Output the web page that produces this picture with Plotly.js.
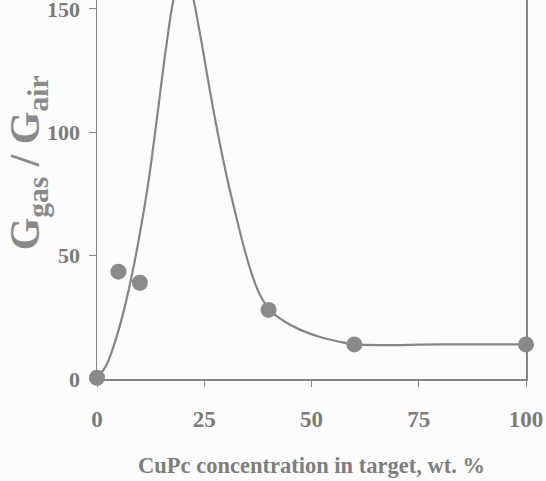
<!DOCTYPE html>
<html>
<head>
<meta charset="utf-8">
<script src="https://cdn.plot.ly/plotly-3.0.1.min.js"></script>
<style>html,body{margin:0;padding:0;background:#fcfcfc;}</style>
</head>
<body>
<div id="chart" style="width:546px;height:481px;"></div>
<script>
// Measured points
const concentration = [0, 5, 10, 40, 60, 100];
const ratio = [0.5, 43.5, 39, 28, 14, 14];

// Smooth guide curve
const curveX = [0, 2, 4, 6, 8, 10, 12, 14, 16, 18, 20, 22, 24, 26, 28, 30, 32, 34, 36, 38, 40.3, 44, 48, 52, 56, 60, 80, 100];
const curveY = [0.5, 5, 14, 26, 41, 59, 80, 106, 133, 155, 165, 157, 140, 120, 101, 84, 69, 55, 43, 34, 28, 23, 19.5, 17, 15.3, 14, 14, 14];

const xTicks = [0, 25, 50, 75, 100];
const yTicks = [0, 50, 100, 150];

const grey = '#858585';
const serif = 'Liberation Serif, Times New Roman, serif';

const traces = [
  {
    x: curveX, y: curveY, type: 'scatter', mode: 'lines',
    line: {color: grey, width: 2.2, shape: 'spline', smoothing: 1},
    hoverinfo: 'skip', showlegend: false
  },
  {
    x: concentration, y: ratio, type: 'scatter', mode: 'markers',
    marker: {color: '#8a8a8a', size: 16},
    cliponaxis: false, showlegend: false
  }
];

const layout = {
  width: 546, height: 481,
  margin: {l: 97, r: 20, t: 0, b: 102},
  paper_bgcolor: '#fcfcfc', plot_bgcolor: '#fcfcfc',
  showlegend: false,
  xaxis: {
    range: [0, 100], tickvals: xTicks, ticktext: xTicks.map(String),
    showgrid: false, zeroline: false, showline: true, linecolor: grey, linewidth: 1.5,
    ticks: 'outside', ticklen: 6, tickcolor: grey,
    ticklabelstandoff: 13, ticklabeloverflow: 'allow',
    tickfont: {family: serif, size: 23, color: '#7a7a7a', weight: 'bold'},
    title: {text: 'CuPc concentration in target, wt. %', standoff: 26,
            font: {family: serif, size: 22.5, color: '#7e7e7e', weight: 'bold'}}
  },
  yaxis: {
    range: [0, 153.6], tickvals: yTicks, ticktext: yTicks.map(String),
    showgrid: false, zeroline: false, showline: true, mirror: true, linecolor: grey, linewidth: 1.5,
    ticks: 'outside', ticklen: 7, tickcolor: grey,
    ticklabelstandoff: 4, ticklabeloverflow: 'allow',
    tickfont: {family: serif, size: 22, color: '#7a7a7a', weight: 'bold'}
  },
  annotations: [{
    xref: 'paper', yref: 'paper', x: -0.16, y: 0.57,
    xanchor: 'center', yanchor: 'middle', textangle: -90, showarrow: false,
    text: 'G<sub>gas</sub> / G<sub>air</sub>',
    font: {family: serif, size: 42, color: '#8a8a8a', weight: 'bold'}
  }]
};

Plotly.newPlot('chart', traces, layout, {displayModeBar: false, staticPlot: true});
</script>
</body>
</html>
